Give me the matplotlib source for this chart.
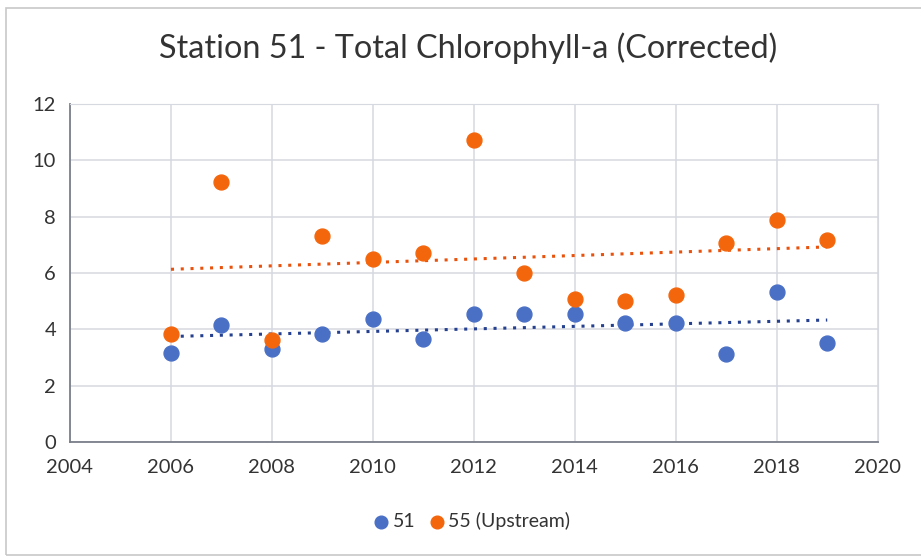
import numpy as np
import matplotlib.pyplot as plt
from matplotlib.patches import Rectangle

# Values
years = [2006, 2007, 2008, 2009, 2010, 2011, 2012,
         2013, 2014, 2015, 2016, 2017, 2018, 2019]
station_51 = [3.16, 4.15, 3.30, 3.83, 4.37, 3.66, 4.54,
              4.54, 4.54, 4.22, 4.22, 3.12, 5.32, 3.51]
station_55 = [3.83, 9.23, 3.62, 7.31, 6.50, 6.71, 10.72,
              6.00, 5.08, 5.00, 5.22, 7.06, 7.88, 7.17]

blue = '#4A70C6'
orange = '#F4660C'

plt.rcParams['font.family'] = ['Lato', 'DejaVu Sans']

fig = plt.figure(figsize=(9.21, 5.58), dpi=100)
ax = fig.add_axes([0.076, 0.208, 0.877, 0.606])

# outer chart frame
fig.patches.append(Rectangle((0.006, 0.006), 1.1, 0.979, transform=fig.transFigure,
                             fill=False, edgecolor='#C8C8C8', linewidth=1.2))

ax.scatter(years, station_51, s=115, color=blue, zorder=3, label='51')
ax.scatter(years, station_55, s=115, color=orange, zorder=3, label='55 (Upstream)')

# linear trendlines as in the spreadsheet chart
x = np.array(years)
for vals, col in [(station_55, '#E8520C'), (station_51, '#25408F')]:
    k, b = np.polyfit(x, vals, 1)
    ax.plot(x, k * x + b, linestyle=(0, (1, 2.2)), color=col, linewidth=2.2, zorder=2)

ax.set_xlim(2004, 2020)
ax.set_ylim(0, 12)
ax.set_xticks(range(2004, 2021, 2))
ax.set_yticks(range(0, 13, 2))
ax.grid(True, color='#D6D9E0', linewidth=1.1)
ax.set_axisbelow(True)
ax.tick_params(length=0, labelsize=14.5, colors='#333333')
ax.tick_params(axis='x', pad=12)
ax.tick_params(axis='y', pad=10)
for side in ['top', 'right']:
    ax.spines[side].set_color('#D6D9E0')
for side in ['left', 'bottom']:
    ax.spines[side].set_color('#7A7F8A')
    ax.spines[side].set_linewidth(1.3)

fig.suptitle('Station 51 - Total Chlorophyll-a (Corrected)', x=0.508, y=0.914,
             va='center', fontsize=23.3, color='#333333')

fig.legend(loc='center', bbox_to_anchor=(0.51, 0.066), ncol=2, frameon=False,
           fontsize=14, handletextpad=0.0, handlelength=1.2, columnspacing=0.5,
           markerscale=0.85, labelcolor='#333333')

fig.savefig('out.png', dpi=100)
